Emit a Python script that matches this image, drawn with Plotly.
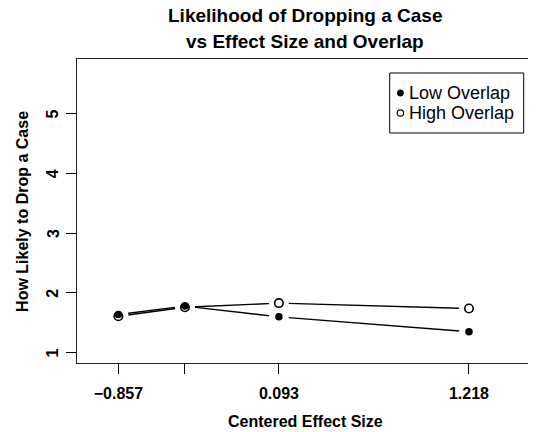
import plotly.graph_objects as go

effect_size = [-0.857, -0.463, 0.093, 1.218]
low_overlap = [1.64, 1.78, 1.60, 1.35]
high_overlap = [1.61, 1.76, 1.83, 1.74]
x_tick_vals = [-0.857, -0.463, 0.093, 1.218]
x_tick_text = ["\u22120.857", "", "0.093", "1.218"]
y_tick_vals = [1, 2, 3, 4, 5]
series_names = ["Low Overlap", "High Overlap"]

FONT = "Liberation Sans, Arial, Helvetica, sans-serif"

# the page body has an 8px margin; work in window pixels and shift
OFF = 8
W, H = 536 - OFF, 432 - OFF
L, R, T, B = 77.3 - OFF, 533.3 - OFF, 59.3 - OFF, 363.3 - OFF
PW, PH = R - L, B - T

def px(xp):
    return (xp - OFF - L) / PW

def py(yp):
    return (B - (yp - OFF)) / PH

fig = go.Figure()

fig.add_trace(go.Scatter(x=effect_size, y=high_overlap, mode="lines",
                         line=dict(color="black", width=1.4), showlegend=False,
                         hoverinfo="skip"))
fig.add_trace(go.Scatter(x=effect_size, y=low_overlap, mode="lines",
                         line=dict(color="black", width=1.4), showlegend=False,
                         hoverinfo="skip"))
# white halos to create the gaps of a type="b" plot
for ys in (high_overlap, low_overlap):
    fig.add_trace(go.Scatter(x=effect_size, y=ys, mode="markers",
                             marker=dict(color="white", size=20, line=dict(width=0)),
                             showlegend=False, hoverinfo="skip"))
fig.add_trace(go.Scatter(x=effect_size, y=high_overlap, mode="markers",
                         name=series_names[1],
                         marker=dict(color="white", size=8.5, symbol="circle",
                                     line=dict(color="black", width=1.6)),
                         showlegend=False))
fig.add_trace(go.Scatter(x=effect_size, y=low_overlap, mode="markers",
                         name=series_names[0],
                         marker=dict(color="black", size=7.5, symbol="circle",
                                     line=dict(color="black", width=0)),
                         showlegend=False))

annotations = []
annotations.append(dict(text="Likelihood of Dropping a Case", x=px(305), y=py(16),
                        xref="paper", yref="paper", showarrow=False,
                        xanchor="center", yanchor="middle",
                        font=dict(family=FONT, size=19, color="black", weight="bold")))
annotations.append(dict(text="vs Effect Size and Overlap", x=px(305), y=py(42),
                        xref="paper", yref="paper", showarrow=False,
                        xanchor="center", yanchor="middle",
                        font=dict(family=FONT, size=19, color="black", weight="bold")))
annotations.append(dict(text="Centered Effect Size", x=px(305.5), y=py(422),
                        xref="paper", yref="paper", showarrow=False,
                        xanchor="center", yanchor="middle",
                        font=dict(family=FONT, size=16, color="black", weight="bold")))
annotations.append(dict(text="How Likely to Drop a Case", x=px(22.5), y=py(212),
                        xref="paper", yref="paper", showarrow=False, textangle=-90,
                        xanchor="center", yanchor="middle",
                        font=dict(family=FONT, size=16, color="black", weight="bold")))
# y tick labels, rotated as in base R, placed at the axis values
for v in y_tick_vals:
    annotations.append(dict(text=str(v), x=px(53), y=v, xref="paper", yref="y",
                            showarrow=False, textangle=-90,
                            xanchor="center", yanchor="middle",
                            font=dict(family=FONT, size=16, color="black", weight="bold")))
for name, yc in zip(series_names, (93.3, 113.3)):
    annotations.append(dict(text=name, x=px(407), y=py(yc), xref="paper", yref="paper",
                            showarrow=False, xanchor="left", yanchor="middle",
                            font=dict(family=FONT, size=18, color="black")))

shapes = [
    dict(type="rect", xref="paper", yref="paper", x0=px(390), x1=px(524),
         y0=py(133.3), y1=py(73.3), line=dict(color="black", width=1), fillcolor="white",
         layer="below"),
    dict(type="circle", xref="paper", yref="paper", xsizemode="pixel", ysizemode="pixel",
         xanchor=px(400.7), yanchor=py(93.3), x0=-3.2, x1=3.2, y0=-3.2, y1=3.2,
         fillcolor="black", line=dict(color="black", width=0.5)),
    dict(type="circle", xref="paper", yref="paper", xsizemode="pixel", ysizemode="pixel",
         xanchor=px(400.7), yanchor=py(113.3), x0=-3.2, x1=3.2, y0=-3.2, y1=3.2,
         fillcolor="white", line=dict(color="black", width=1.2)),
]

fig.update_layout(
    width=W, height=H,
    margin=dict(l=L, r=W - R, t=T, b=H - B, pad=0),
    paper_bgcolor="white", plot_bgcolor="white",
    showlegend=False,
    annotations=annotations,
    shapes=shapes,
    font=dict(family=FONT, color="black"),
)
fig.update_xaxes(range=[-1.102, 1.597], tickvals=x_tick_vals, ticktext=x_tick_text,
                 ticks="outside", ticklen=10, tickwidth=1.2, tickcolor="black",
                 showgrid=False, zeroline=False, showline=True, linecolor="#222",
                 linewidth=1.3, mirror=True, ticklabelstandoff=6,
                 tickfont=dict(family=FONT, size=16, color="black", weight="bold"))
fig.update_yaxes(range=[0.828, 5.915], tickvals=y_tick_vals, showticklabels=False,
                 ticks="outside", ticklen=10, tickwidth=1.2, tickcolor="black",
                 showgrid=False, zeroline=False, showline=True, linecolor="#222",
                 linewidth=1.3, mirror=True)

fig.write_html("out.html")
